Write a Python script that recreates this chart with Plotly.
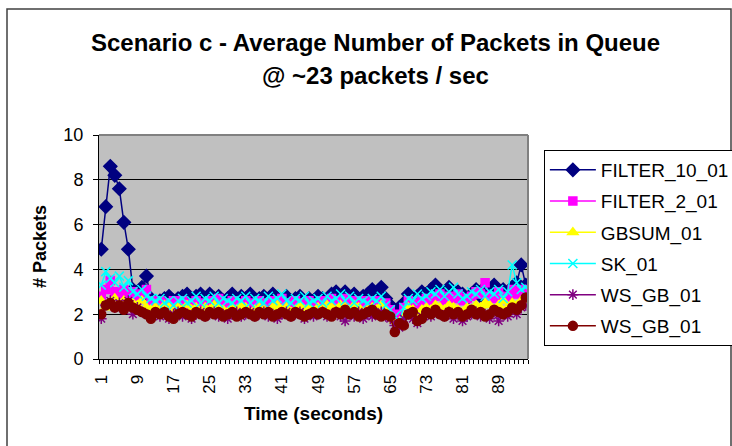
import plotly.graph_objects as go

# Time axis: one category per second
seconds = list(range(1, 96))
tick_labels = [1, 9, 17, 25, 33, 41, 49, 57, 65, 73, 81, 89]

filter_10_01 = [
    4.9, 6.8, 8.6, 8.2, 7.6, 6.1, 4.9, 3.1, 2.8, 3.2, 3.7, 2.7,
    2.5, 2.6, 2.7, 2.8, 2.6, 2.7, 2.8, 2.9, 2.7, 2.8, 2.9, 2.6,
    2.9, 2.7, 2.8, 2.6, 2.7, 2.9, 2.6, 2.8, 2.7, 2.9, 2.6, 2.7,
    2.8, 2.6, 2.9, 2.7, 2.5, 2.8, 2.6, 2.7, 2.8, 2.5, 2.7, 2.6,
    2.8, 2.7, 2.6, 2.9, 3.0, 2.8, 3.0, 2.7, 2.9, 2.6, 2.8, 2.9,
    3.1, 2.8, 3.2, 2.7, 2.4, 2.0, 2.3, 2.5, 2.9, 2.6, 2.8, 3.0,
    2.9, 3.1, 3.3, 3.0, 2.9, 3.2, 2.8, 3.0, 2.9, 2.7, 2.9, 3.1,
    2.8, 3.2, 3.0, 3.3, 2.9, 3.1, 2.8, 3.2, 3.4, 4.2, 3.3,
]
filter_2_01 = [
    2.8, 3.1, 3.5, 3.0, 2.9, 3.1, 2.8, 3.0, 2.7, 2.9, 3.1, 2.6,
    2.5, 2.6, 2.5, 2.4, 2.6, 2.5, 2.6, 2.4, 2.5, 2.6, 2.5, 2.4,
    2.6, 2.5, 2.7, 2.4, 2.5, 2.6, 2.4, 2.5, 2.6, 2.5, 2.4, 2.6,
    2.5, 2.4, 2.6, 2.5, 2.7, 2.4, 2.5, 2.6, 2.4, 2.5, 2.6, 2.5,
    2.4, 2.6, 2.5, 2.7, 2.6, 2.5, 2.7, 2.6, 2.5, 2.6, 2.4, 2.6,
    2.5, 2.6, 2.4, 2.5, 2.2, 1.8, 2.0, 2.3, 2.6, 2.5, 2.4, 2.6,
    2.7, 2.6, 2.8, 2.9, 2.6, 2.8, 2.7, 2.9, 2.6, 2.7, 2.8, 3.0,
    2.9, 3.4, 2.8, 2.7, 3.0, 2.8, 2.7, 3.1, 2.9, 3.1, 3.1,
]
gbsum_01 = [
    2.6, 2.3, 2.5, 2.7, 2.4, 2.6, 2.3, 2.5, 2.4, 2.6, 2.3, 2.2,
    2.3, 2.2, 2.4, 2.3, 2.1, 2.3, 2.2, 2.4, 2.2, 2.3, 2.1, 2.3,
    2.2, 2.4, 2.3, 2.2, 2.1, 2.3, 2.2, 2.4, 2.3, 2.1, 2.2, 2.3,
    2.2, 2.1, 2.3, 2.4, 2.2, 2.3, 2.1, 2.2, 2.4, 2.2, 2.3, 2.1,
    2.3, 2.2, 2.4, 2.3, 2.2, 2.4, 2.3, 2.2, 2.4, 2.3, 2.1, 2.2,
    2.3, 2.2, 2.4, 2.2, 2.0, 1.7, 1.6, 1.9, 2.3, 2.2, 2.0, 2.2,
    2.3, 2.2, 2.4, 2.3, 2.2, 2.4, 2.3, 2.2, 2.1, 2.3, 2.2, 2.4,
    2.3, 2.5, 2.4, 2.2, 2.4, 2.6, 2.3, 2.5, 2.4, 2.6, 2.4,
]
sk_01 = [
    3.3, 3.9, 3.6, 3.4, 3.7, 3.2, 3.5, 3.0, 2.9, 3.1, 2.8, 2.7,
    2.6, 2.7, 2.5, 2.6, 2.4, 2.6, 2.7, 2.5, 2.6, 2.8, 2.5, 2.7,
    2.6, 2.8, 2.5, 2.7, 2.6, 2.5, 2.7, 2.6, 2.8, 2.5, 2.7, 2.6,
    2.5, 2.8, 2.6, 2.7, 2.9, 2.6, 2.5, 2.7, 2.6, 2.8, 2.5, 2.6,
    2.7, 2.5, 2.8, 2.6, 2.7, 2.9, 2.6, 2.8, 2.5, 2.7, 2.6, 2.5,
    2.7, 2.6, 2.8, 2.4, 2.2, 1.9, 1.7, 2.3, 2.7, 2.6, 2.9, 2.7,
    2.8, 3.0, 2.9, 3.1, 2.8, 3.0, 3.2, 2.9, 2.7, 2.8, 3.0, 2.9,
    3.1, 2.8, 3.0, 2.9, 3.1, 2.7, 3.0, 4.2, 3.4, 3.1, 3.2,
]
ws_gb_01_a = [
    1.8, 2.4, 2.6, 2.3, 2.5, 2.2, 2.6, 2.0, 2.3, 2.1, 2.0, 1.9,
    2.0, 1.9, 2.1, 1.8, 2.0, 2.1, 1.9, 2.0, 1.8, 2.0, 2.1, 1.9,
    2.0, 2.1, 1.9, 2.0, 1.8, 2.0, 2.1, 1.9, 2.0, 2.1, 1.9, 2.0,
    2.1, 1.9, 2.0, 1.8, 2.0, 2.1, 1.9, 2.0, 2.1, 1.8, 2.0, 1.9,
    2.0, 2.1, 1.9, 2.0, 2.1, 1.9, 1.7, 2.0, 1.9, 2.1, 1.8, 2.0,
    1.9, 2.0, 2.1, 1.9, 1.8, 1.5, 1.4, 1.8, 2.0, 1.8, 1.6, 1.9,
    2.0, 1.9, 2.1, 2.0, 1.9, 2.1, 1.8, 2.0, 1.7, 1.9, 2.0, 2.1,
    1.9, 2.0, 1.8, 2.1, 1.7, 2.0, 1.9, 2.2, 2.0, 2.3, 2.4,
]
ws_gb_01_b = [
    2.0, 2.4, 2.5, 2.3, 2.4, 2.2, 2.5, 2.3, 2.2, 2.1, 2.0, 1.8,
    2.1, 2.0, 2.1, 1.9, 1.8, 2.0, 2.1, 2.0, 1.9, 2.1, 2.0, 1.9,
    2.1, 2.0, 2.1, 1.9, 2.0, 2.1, 1.9, 2.0, 2.1, 2.0, 1.9, 2.1,
    2.0, 2.1, 1.9, 2.0, 2.1, 2.0, 1.9, 2.1, 2.0, 1.9, 2.0, 2.1,
    2.0, 2.1, 2.0, 1.9, 2.1, 2.0, 2.2, 2.0, 2.1, 1.9, 2.0, 2.1,
    2.2, 2.0, 1.9, 2.0, 1.9, 1.2, 1.6, 1.5, 2.0, 2.1, 1.7, 1.8,
    2.1, 2.0, 2.2, 2.0, 1.9, 2.1, 2.0, 2.1, 1.9, 2.0, 2.2, 2.0,
    2.1, 1.9, 2.0, 2.2, 2.1, 2.0, 2.1, 2.3, 2.2, 2.4, 2.75,
]

series = [
    ("FILTER_10_01", filter_10_01, "#000080", "diamond", 10),
    ("FILTER_2_01", filter_2_01, "#FF00FF", "square", 8),
    ("GBSUM_01", gbsum_01, "#FFFF00", "triangle-up", 9),
    ("SK_01", sk_01, "#00FFFF", "x-thin-open", 9),
    ("WS_GB_01", ws_gb_01_a, "#800080", "asterisk-open", 9),
    ("WS_GB_01", ws_gb_01_b, "#800000", "circle", 9),
]

fig = go.Figure()
for i, (name, vals, color, symbol, size) in enumerate(series):
    fig.add_trace(go.Scatter(
        x=seconds, y=vals, name=name, mode="lines+markers",
        legendgroup=f"g{i}",
        line=dict(color=color, width=1.5),
        marker=dict(symbol=symbol, size=size, color=color,
                    line=dict(color=color, width=1.5)),
    ))

font = "Liberation Sans, Arial, sans-serif"

fig.update_layout(
    width=732, height=446,
    margin=dict(l=99, r=204, t=135, b=87, autoexpand=False),
    paper_bgcolor="white",
    plot_bgcolor="#C0C0C0",
    font=dict(family=font, color="black", size=16),
    showlegend=True,
    legend=dict(
        x=1.037, y=0.933, xanchor="left", yanchor="top",
        bgcolor="white", bordercolor="black", borderwidth=1,
        font=dict(family=font, size=19, color="black"),
        tracegroupgap=3.5, itemwidth=46,
    ),
    xaxis=dict(
        range=[0.5, 95.5], tickmode="array", tickvals=tick_labels,
        ticktext=[str(t) for t in tick_labels], tickangle=-90,
        ticks="outside", ticklen=8, tickcolor="rgba(0,0,0,0)",
        showgrid=False, zeroline=False,
        showline=True, linecolor="black", linewidth=1,
        tickfont=dict(size=17),
        minor=dict(tickvals=[k + 0.5 for k in range(0, 96)],
                   ticks="outside", ticklen=4, tickcolor="black",
                   showgrid=False),
    ),
    yaxis=dict(
        range=[0, 10], dtick=2, tick0=0,
        ticks="outside", ticklen=5, tickcolor="black",
        ticklabelstandoff=6,
        showgrid=True, gridcolor="black", gridwidth=1,
        zeroline=False, showline=True, linecolor="black", linewidth=1,
        tickfont=dict(size=18),
    ),
    annotations=[
        dict(text="<b>Scenario c - Average Number of Packets in Queue</b>",
             xref="paper", yref="paper", x=(375 - 99) / 429, y=(359 - 42) / 224,
             showarrow=False, font=dict(size=24), xanchor="center", yanchor="middle"),
        dict(text="<b>@ ~23 packets / sec</b>",
             xref="paper", yref="paper", x=(375 - 99) / 429, y=(359 - 75) / 224,
             showarrow=False, font=dict(size=24), xanchor="center", yanchor="middle"),
        dict(text="<b>Time (seconds)</b>",
             xref="paper", yref="paper", x=0.5, y=(359 - 413) / 224,
             showarrow=False, font=dict(size=19), xanchor="center", yanchor="middle"),
        dict(text="<b># Packets</b>", textangle=-90,
             xref="paper", yref="paper", x=(40 - 99) / 429, y=0.5,
             showarrow=False, font=dict(size=18), xanchor="center", yanchor="middle"),
    ],
    shapes=[
        # plot-area frame on the top and right sides
        dict(type="line", xref="paper", yref="paper", x0=0, x1=1, y0=1, y1=1,
             line=dict(color="#808080", width=2), layer="above"),
        dict(type="line", xref="paper", yref="paper", x0=1, x1=1, y0=0, y1=1,
             line=dict(color="#808080", width=2), layer="above"),
        # outer chart border
        dict(type="rect", xref="paper", yref="paper",
             x0=(7 - 99) / 429, x1=(731 - 99) / 429,
             y0=(359 - 460) / 224, y1=(359 - 9) / 224,
             line=dict(color="#404040", width=1.5), layer="below"),
    ],
)

fig.write_html("out.html")
